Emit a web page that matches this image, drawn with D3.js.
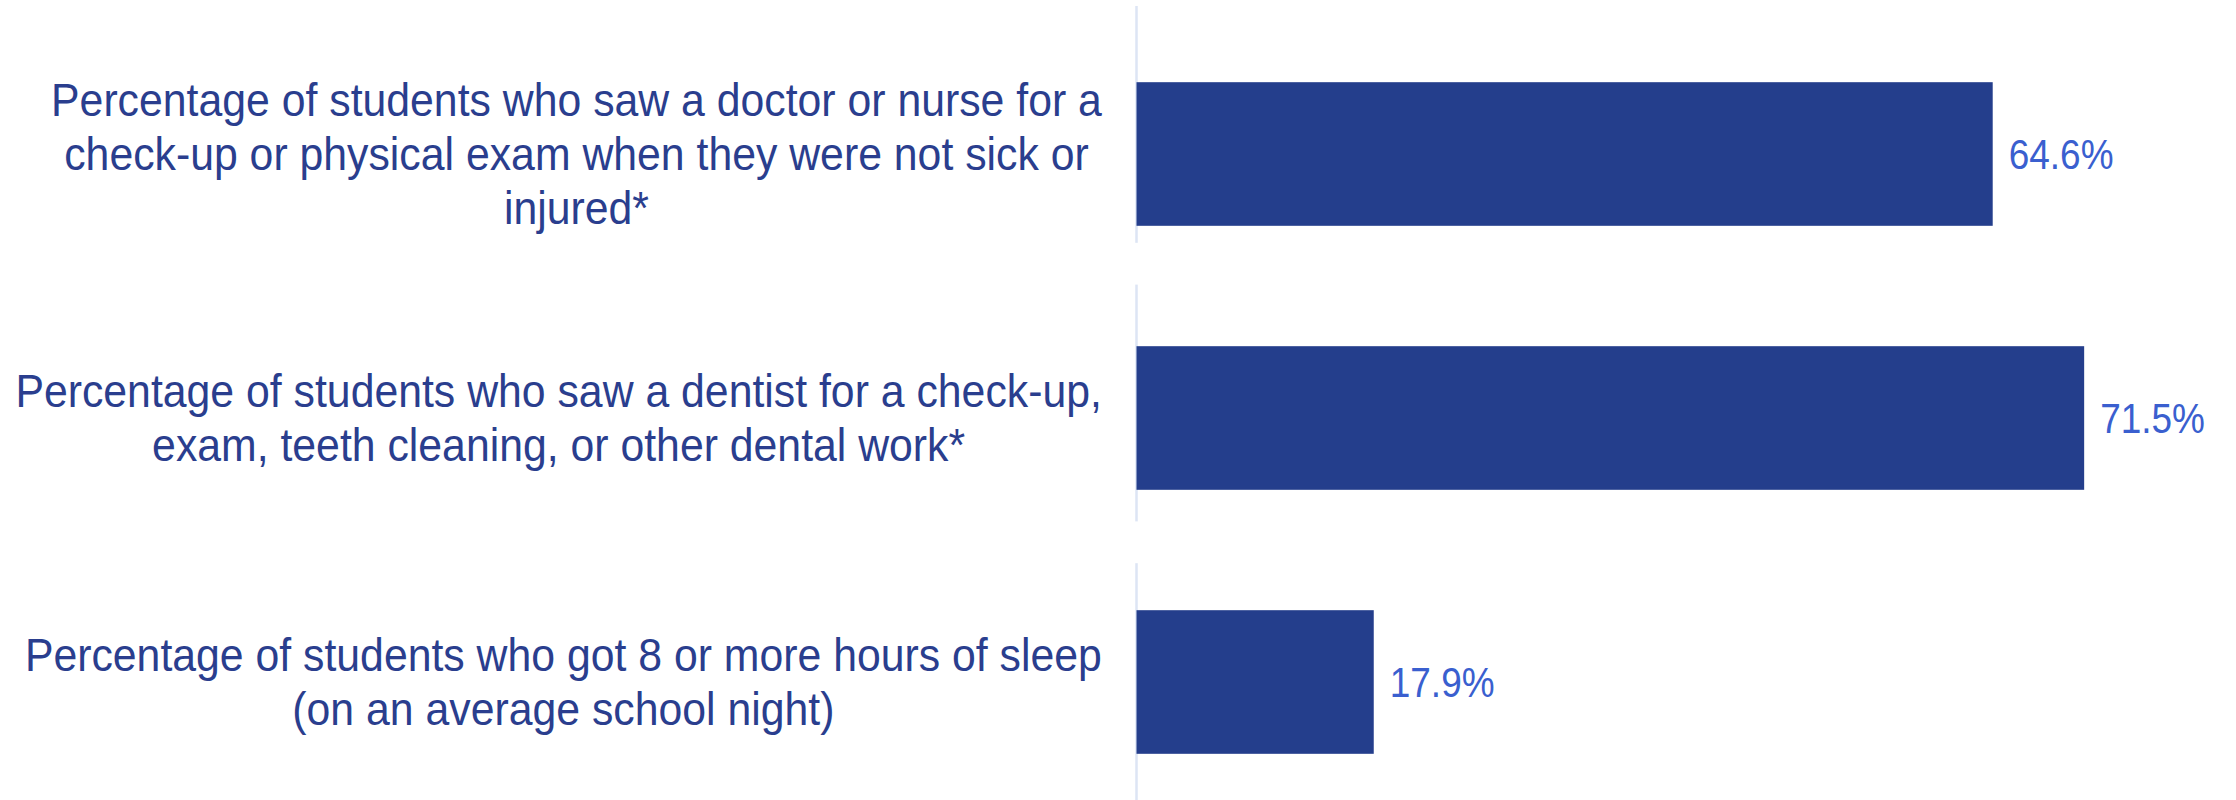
<!DOCTYPE html>
<html>
<head>
<meta charset="utf-8">
<script src="https://cdn.jsdelivr.net/npm/d3@7"></script>
<style>
  html, body { margin: 0; padding: 0; background: #ffffff; }
  svg { display: block; }
  text { font-family: "Liberation Sans", Arial, Helvetica, sans-serif; }
</style>
</head>
<body>
<svg id="chart" width="2236" height="800"></svg>
<script>
// Indicator labels (one array entry per line of wrapped text)
const categories = [
  ["Percentage of students who saw a doctor or nurse for a",
   "check-up or physical exam when they were not sick or",
   "injured*"],
  ["Percentage of students who saw a dentist for a check-up,",
   "exam, teeth cleaning, or other dental work*"],
  ["Percentage of students who got 8 or more hours of sleep",
   "(on an average school night)"]
];
const values = [64.6, 71.5, 17.9];
const valueLabels = ["64.6%", "71.5%", "17.9%"];

const W = 2236, H = 800;
const barColor = "#243e8c";
const textColor = "#2a3e8e";
const valueColor = "#3a5fcf";
const axisColor = "#dde5f4";
const valueSqueeze = 0.86;   // horizontal condensing of value labels
const labelSqueeze = 0.93;   // horizontal condensing of category labels

const svg = d3.select("#chart");
const ids = categories.map((_, i) => i);

const x = d3.scaleLinear().domain([0, 100]).range([1136.5, 2461.9]);

const y = d3.scaleBand()
  .domain(ids)
  .range([22, 814])
  .paddingInner(0.456)
  .paddingOuter(0.228);

// Row separators along the baseline: one light vertical segment per row
const rows = d3.scaleBand()
  .domain(ids)
  .range([6, 800])
  .paddingInner(0.15)
  .paddingOuter(0);

svg.append("g").selectAll("line")
  .data(ids)
  .join("line")
  .attr("x1", x(0)).attr("x2", x(0))
  .attr("y1", d => rows(d))
  .attr("y2", d => rows(d) + rows.bandwidth())
  .attr("stroke", axisColor)
  .attr("stroke-width", 2.5);

// Bars
svg.append("g").selectAll("rect")
  .data(ids)
  .join("rect")
  .attr("x", x(0))
  .attr("y", d => y(d))
  .attr("width", d => x(values[d]) - x(0))
  .attr("height", y.bandwidth())
  .attr("fill", barColor);

// Value labels
svg.append("g").selectAll("text")
  .data(ids)
  .join("text")
  .attr("transform", d => `translate(${x(values[d]) + 16},${y(d) + y.bandwidth() / 2}) scale(${valueSqueeze},1)`)
  .attr("dy", "0.35em")
  .attr("font-size", 43)
  .attr("fill", valueColor)
  .text(d => valueLabels[d]);

// Category labels: lines centred on each other, block right-aligned to the bars
const lineH = 54;
const blockRight = 1102;
const labels = svg.append("g").selectAll("text")
  .data(ids)
  .join("text")
  .attr("font-size", 46)
  .attr("fill", textColor)
  .attr("text-anchor", "middle");

labels.each(function(d) {
  const t = d3.select(this);
  const lines = categories[d];
  const n = lines.length;
  lines.forEach((ln, k) => {
    t.append("tspan")
      .attr("x", 0)
      .attr("y", (k - (n - 1) / 2) * lineH)
      .attr("dy", "0.35em")
      .text(ln);
  });
  let maxW = 0;
  t.selectAll("tspan").each(function() {
    maxW = Math.max(maxW, this.getComputedTextLength());
  });
  const cx = blockRight - (maxW * labelSqueeze) / 2;
  t.attr("transform", `translate(${cx},${y(d) + y.bandwidth() / 2}) scale(${labelSqueeze},1)`);
});
</script>
</body>
</html>
